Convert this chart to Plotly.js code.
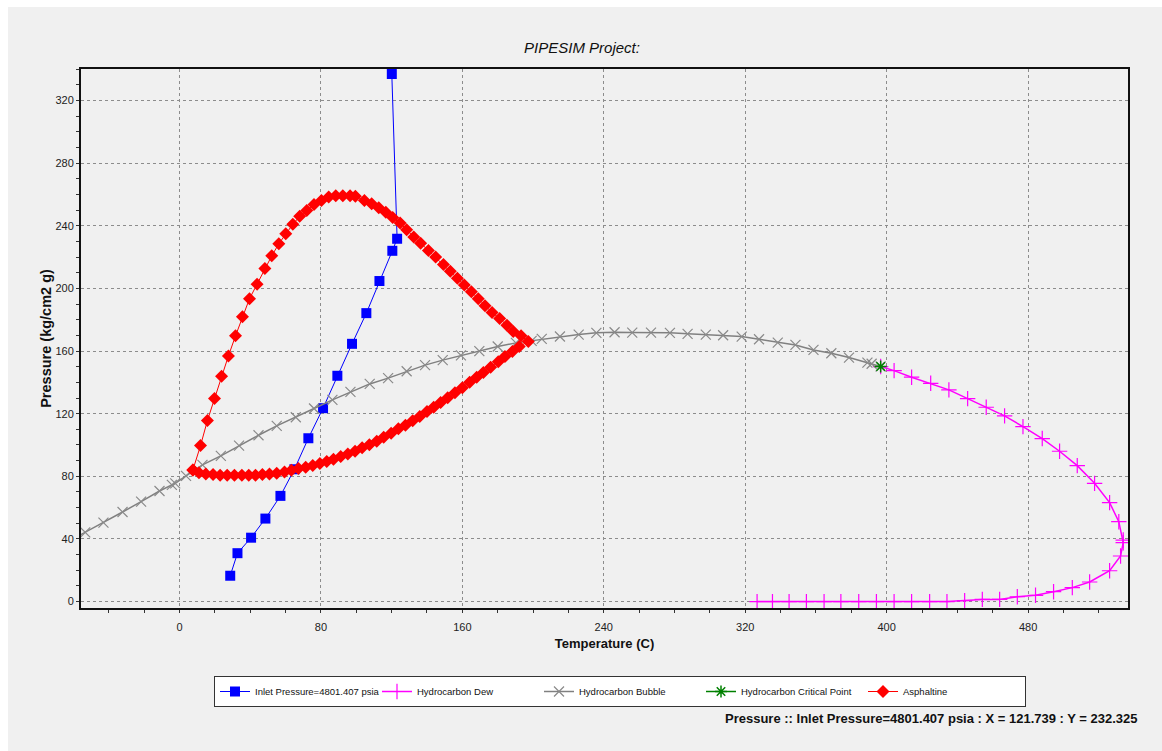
<!DOCTYPE html>
<html>
<head>
<meta charset="utf-8">
<script src="https://cdn.plot.ly/plotly-3.0.1.min.js"></script>
<style>
  html, body { margin: 0; padding: 0; background: #ffffff; width: 1162px; height: 751px; overflow: hidden; }
  #chart { position: absolute; left: 8px; top: 7px; width: 1154px; height: 744px; }
</style>
</head>
<body>
<div id="chart"></div>
<script>
// ---- Data ----
const inletName = 'Inlet Pressure=4801.407 psia';
const inletT = [120.1, 123.1, 120.4, 113.1, 105.7, 97.6, 89.3, 81.2, 72.9, 65.0, 57.1, 48.6, 40.5, 32.8, 28.7];
const inletP = [336.9, 231.7, 224.0, 204.7, 184.2, 164.6, 144.2, 123.5, 104.3, 84.5, 67.5, 53.0, 40.8, 30.9, 16.5];

const dewName = 'Hydrocarbon Dew';
const dewT = [396.6, 404.2, 414.1, 424.9, 435.2, 445.8, 456.3, 466.7, 477.1, 488.0, 497.8, 507.8, 517.6, 526.1, 531.3, 533.8, 533.8, 532.3, 526.1, 514.8, 505.0, 494.4, 484.2, 473.9, 463.9, 454.1, 444.1, 434.1, 424.3, 414.1, 404.2, 394.2, 384.2, 374.1, 364.6, 354.6, 344.8, 335.4, 326.7];
const dewP = [150.1, 147.5, 143.3, 139.4, 135.2, 129.6, 124.1, 118.6, 111.7, 104.1, 96.0, 86.8, 75.5, 63.2, 51.0, 39.3, 37.6, 29.1, 19.7, 12.5, 8.9, 6.3, 4.0, 3.1, 1.4, 1.4, 0.6, 0.0, 0.0, 0.0, 0.0, 0.0, 0.0, 0.0, 0.0, 0.0, 0.0, 0.0, 0.0];

const bubbleName = 'Hydrocarbon Bubble';
const bubbleT = [-63.6, -53.3, -43.0, -32.2, -21.7, -11.3, -4.3, -2.4, 3.7, 13.0, 23.4, 33.7, 44.7, 55.0, 65.8, 76.1, 86.5, 96.7, 107.6, 118.0, 128.5, 138.9, 148.9, 159.2, 169.6, 180.0, 190.3, 199.2, 204.9, 215.2, 225.8, 235.8, 246.1, 256.1, 266.7, 277.4, 287.4, 297.7, 307.5, 318.0, 327.8, 338.4, 348.4, 358.6, 368.7, 378.7, 389.1, 391.5, 396.6];
const bubbleP = [38.0, 44.2, 50.4, 57.2, 63.8, 70.6, 74.5, 75.5, 80.3, 87.3, 93.0, 99.6, 106.2, 112.2, 117.7, 123.3, 128.8, 133.9, 139.0, 142.7, 147.1, 151.0, 154.2, 157.2, 159.9, 162.9, 165.2, 166.5, 167.8, 169.3, 170.5, 171.6, 172.0, 171.8, 171.8, 171.6, 171.0, 170.5, 170.1, 169.2, 167.5, 165.4, 163.9, 160.7, 158.6, 155.8, 152.6, 151.9, 150.1];

const critName = 'Hydrocarbon Critical Point';
const critT = [396.6];
const critP = [150.1];

const asphName = 'Asphaltine';
const asphT = [7.6, 11.9, 15.8, 19.8, 23.8, 27.7, 31.7, 35.6, 39.6, 43.9, 48.3, 52.2, 56.2, 60.1, 64.1, 68.0, 72.0, 76.1, 80.3, 84.4, 88.4, 92.4, 96.5, 99.5, 104.6, 108.7, 112.7, 116.7, 120.6, 124.8, 128.5, 132.5, 136.4, 140.8, 144.9, 149.3, 153.2, 157.2, 161.1, 165.1, 169.0, 172.8, 176.8, 181.1, 185.2, 188.8, 193.2, 197.3,
  192.2, 188.3, 184.1, 180.3, 176.0, 171.9, 168.1, 164.1, 160.0, 155.8, 151.7, 147.7, 143.8, 140.0, 135.9, 131.9, 127.8, 123.8, 119.7, 115.5, 111.6, 107.4, 103.3, 99.3, 95.2, 91.2, 87.1, 83.3, 79.4, 75.4, 71.4, 67.3, 63.3, 59.4, 55.0, 50.9, 46.9, 43.0, 39.2, 35.3, 31.1, 27.0, 23.0, 19.0, 14.9, 11.0, 7.6];
const asphP = [84.1, 99.6, 115.6, 129.7, 143.9, 156.9, 169.7, 181.9, 193.4, 202.7, 212.7, 220.8, 228.5, 234.9, 240.9, 246.0, 249.8, 253.6, 256.2, 258.3, 259.2, 259.2, 259.2, 258.8, 256.2, 254.1, 251.5, 248.7, 245.3, 241.7, 237.5, 232.8, 228.9, 224.2, 220.0, 215.3, 211.0, 206.4, 202.1, 197.8, 193.4, 188.9, 184.6, 180.8, 176.5, 172.5, 169.7, 166.1,
  162.9, 159.7, 156.5, 153.1, 149.7, 146.3, 143.3, 140.1, 136.5, 133.3, 130.1, 127.1, 124.1, 121.4, 118.2, 115.4, 112.6, 110.3, 107.5, 105.0, 102.4, 100.1, 98.2, 96.0, 94.3, 92.6, 90.9, 89.4, 88.1, 86.9, 85.8, 85.0, 83.9, 82.8, 82.0, 81.5, 81.1, 80.7, 80.7, 80.7, 80.7, 80.7, 80.7, 81.1, 81.5, 82.2, 84.1];

const titleText = 'PIPESIM Project:';
const xTitle = 'Temperature (C)';
const yTitle = 'Pressure (kg/cm2 g)';
const statusText = 'Pressure :: Inlet Pressure=4801.407 psia : X = 121.739 : Y = 232.325';

// ---- Styling ----
const NARROW = "'Liberation Sans Narrow', 'Arial Narrow', 'Liberation Sans', Arial, sans-serif";
const REGULAR = "'Liberation Sans', Arial, sans-serif";

const traces = [
  { x: inletT, y: inletP, name: inletName, type: 'scatter', mode: 'lines+markers',
    line: { color: '#0000ff', width: 1 },
    marker: { symbol: 'square', size: 10, color: '#0000ff' } },
  { x: dewT, y: dewP, name: dewName, type: 'scatter', mode: 'lines+markers',
    line: { color: '#ff00ff', width: 1.5 },
    marker: { symbol: 'cross-thin-open', size: 11, color: '#ff00ff', line: { color: '#ff00ff', width: 1.2 } } },
  { x: bubbleT, y: bubbleP, name: bubbleName, type: 'scatter', mode: 'lines+markers',
    line: { color: '#808080', width: 1.5 },
    marker: { symbol: 'x-thin-open', size: 10, color: '#8a8a8a', line: { color: '#8a8a8a', width: 1.2 } } },
  { x: critT, y: critP, name: critName, type: 'scatter', mode: 'lines+markers',
    line: { color: '#008000', width: 1.5 },
    marker: { symbol: 'asterisk-open', size: 10, color: '#008000', line: { color: '#008000', width: 1.5 } } },
  { x: asphT, y: asphP, name: asphName, type: 'scatter', mode: 'lines+markers',
    line: { color: '#ff0000', width: 1 },
    marker: { symbol: 'diamond', size: 10, color: '#ff0000' } }
];

const W = 1154, H = 744;
const layout = {
  width: W, height: H,
  paper_bgcolor: '#f0f0f0', plot_bgcolor: '#f0f0f0',
  margin: { l: 73, r: 34, t: 62, b: 143 },
  showlegend: true,
  title: { text: titleText, font: { family: NARROW, size: 15, style: 'italic', color: '#111' },
    xref: 'container', x: 574 / W, xanchor: 'center', yref: 'container', y: 1 - 41 / H, yanchor: 'middle' },
  xaxis: {
    range: [-55.7, 536.5], tick0: 0, dtick: 80,
    ticks: 'outside', ticklen: 3, tickcolor: '#333', tickwidth: 1,
    showgrid: true, gridcolor: '#8c8c8c', griddash: '3px,3px', gridwidth: 1,
    zeroline: false, showline: true, linecolor: '#111', linewidth: 2, mirror: true,
    minor: { tick0: 0, dtick: 20, ticks: 'outside', ticklen: 3, tickcolor: '#333', showgrid: false },
    tickfont: { family: NARROW, size: 11, color: '#222' },
    ticklabelstandoff: 5,
    title: { text: xTitle, font: { family: NARROW, size: 13, weight: 'bold', color: '#111' }, standoff: 7 }
  },
  yaxis: {
    range: [-4.1, 340.1], tick0: 0, dtick: 40,
    ticks: 'outside', ticklen: 3, tickcolor: '#333', tickwidth: 1,
    showgrid: true, gridcolor: '#8c8c8c', griddash: '3px,3px', gridwidth: 1,
    zeroline: false, showline: true, linecolor: '#111', linewidth: 2, mirror: true,
    minor: { tick0: 0, dtick: 10, ticks: 'outside', ticklen: 3, tickcolor: '#333', showgrid: false },
    tickfont: { family: NARROW, size: 11, color: '#222' },
    title: { text: yTitle, font: { family: REGULAR, size: 14.5, weight: 'bold', color: '#111' }, standoff: 0 }
  },
  legend: {
    orientation: 'h', xref: 'container', yref: 'container',
    x: 206 / W, y: 1 - 669 / H, xanchor: 'left', yanchor: 'top',
    bgcolor: '#ffffff', bordercolor: '#333', borderwidth: 1,
    font: { family: NARROW, size: 9.5, color: '#111' },
    entrywidth: 117, entrywidthmode: 'pixels', itemwidth: 30, tracegroupgap: 0
  },
  annotations: [{
    text: statusText, showarrow: false,
    xref: 'paper', yref: 'paper', x: (1132 - 73) / 1047, y: (601 - 711) / 539,
    xanchor: 'right', yanchor: 'middle',
    font: { family: NARROW, size: 13, weight: 'bold', color: '#111' }
  }]
};

Plotly.newPlot('chart', traces, layout, { displayModeBar: false, staticPlot: true });
</script>
</body>
</html>
